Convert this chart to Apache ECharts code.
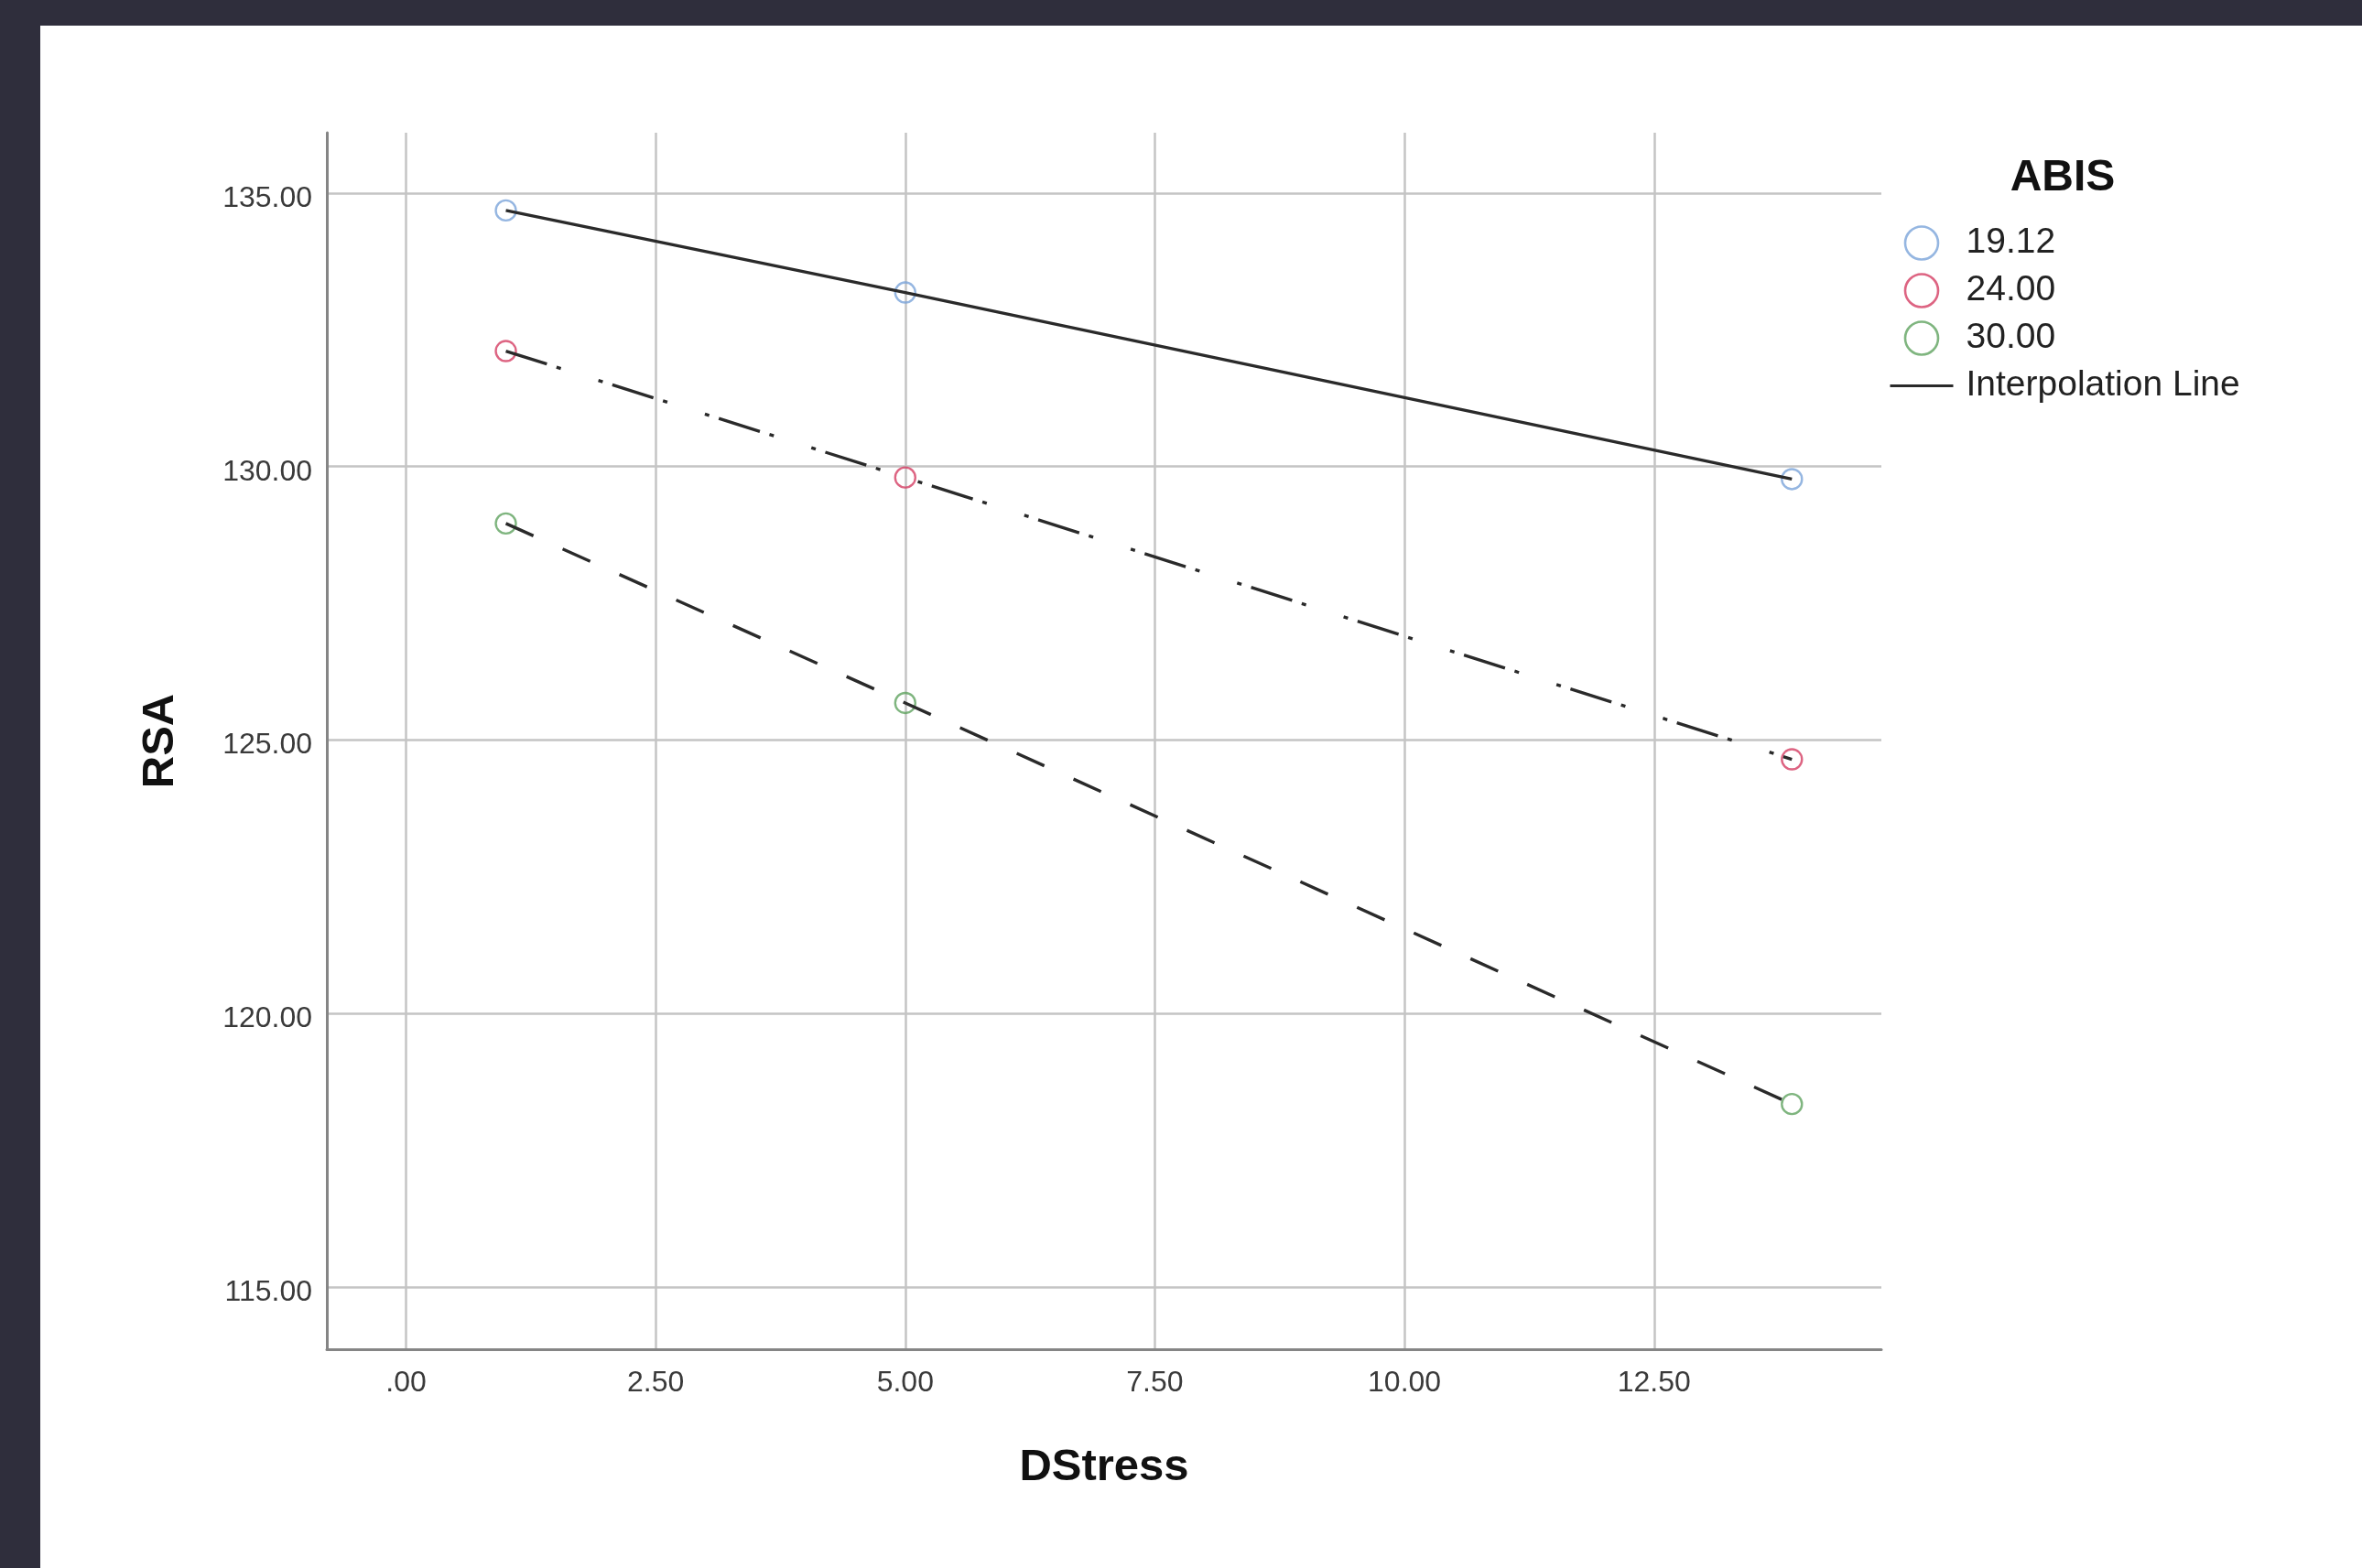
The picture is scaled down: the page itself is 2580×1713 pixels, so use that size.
<!DOCTYPE html>
<html><head><meta charset="utf-8">
<script src="https://cdn.jsdelivr.net/npm/echarts@6/dist/echarts.min.js"></script>
<style>
html,body{margin:0;padding:0;background:#2f2e3c;width:2580px;height:1713px;overflow:hidden}
#chart{position:absolute;left:44px;top:28px;width:2536px;height:1685px;background:#fff}
</style>
</head><body><div id="chart"></div>
<script>
// ---- data ----
const dstress = [1.0, 5.0, 13.88];
const rsa_19_12 = [134.68, 133.18, 129.77];
const rsa_24_00 = [132.11, 129.80, 124.65];
const rsa_30_00 = [128.96, 125.68, 118.35];
const groupNames = ['19.12', '24.00', '30.00'];
const lineName = 'Interpolation Line';
const xTicks = [0, 2.5, 5, 7.5, 10, 12.5];
const xTickLabels = ['.00', '2.50', '5.00', '7.50', '10.00', '12.50'];
const yTicks = [115, 120, 125, 130, 135];
const yTickLabels = ['115.00', '120.00', '125.00', '130.00', '135.00'];
const xAxisName = 'DStress';
const yAxisName = 'RSA';
const legendTitle = 'ABIS';

// ---- styling ----
const groupValues = [rsa_19_12, rsa_24_00, rsa_30_00];
const markerColors = ['#7aa4da', '#d43d63', '#5fa35f'];
const lineDashes = ['solid', [47, 11, 5, 43, 5, 11], [33, 35]];
const lineColor = '#2a2a2a';
const FONT = '"Liberation Sans", Arial, sans-serif';

const fmt = (ticks, labels) => v => {
  const i = ticks.findIndex(t => Math.abs(t - v) < 1e-9);
  return i >= 0 ? labels[i] : '';
};

const series = [];
groupValues.forEach((vals, i) => {
  const pts = dstress.map((x, j) => [x, vals[j]]);
  series.push({
    name: groupNames[i], type: 'scatter', data: pts, z: 2,
    symbol: 'circle', symbolSize: 22,
    itemStyle: { color: 'rgba(255,255,255,0)', borderColor: markerColors[i], borderWidth: 2.4 }
  });
});
groupValues.forEach((vals, i) => {
  const pts = dstress.map((x, j) => [x, vals[j]]);
  series.push({
    name: lineName, type: 'line', data: pts, z: 3,
    symbol: 'none', showSymbol: false,
    itemStyle: { color: lineColor },
    lineStyle: { color: lineColor, width: 3.4, type: lineDashes[i], cap: 'butt' }
  });
});

const legendData = groupNames.map((n, i) => ({
  name: n, icon: 'circle',
  itemStyle: { color: 'rgba(255,255,255,0)', borderColor: markerColors[i], borderWidth: 2.6 }
}));
legendData.push({
  name: lineName,
  itemStyle: { color: 'rgba(0,0,0,0)', borderWidth: 0, opacity: 0 },
  lineStyle: { color: lineColor, width: 3, type: 'solid', opacity: 1 }
});

const chart = echarts.init(document.getElementById('chart'), null, { renderer: 'canvas' });
chart.setOption({
  animation: false,
  backgroundColor: '#ffffff',
  textStyle: { fontFamily: FONT },
  grid: { left: 313, top: 117, right: 525, bottom: 239, containLabel: false },
  xAxis: {
    type: 'value', min: -0.793, max: 14.776,
    name: xAxisName, nameLocation: 'middle', nameGap: 105,
    nameTextStyle: { fontFamily: FONT, fontSize: 49, fontWeight: 'bold', color: '#111' },
    axisLine: { onZero: false, lineStyle: { color: '#858585', width: 3 } },
    axisTick: { show: false, customValues: xTicks },
    axisLabel: { customValues: xTicks, formatter: fmt(xTicks, xTickLabels), fontFamily: FONT, fontSize: 32, color: '#3a3a3a', margin: 21 },
    splitLine: { show: true, lineStyle: { color: '#c4c4c4', width: 2.5 } }
  },
  yAxis: {
    type: 'value', min: 113.87, max: 136.10,
    name: yAxisName, nameLocation: 'middle', nameGap: 157,
    nameTextStyle: { fontFamily: FONT, fontSize: 49, fontWeight: 'bold', color: '#111' },
    axisLine: { show: true, onZero: false, lineStyle: { color: '#858585', width: 3 } },
    axisTick: { show: false, customValues: yTicks },
    axisLabel: { customValues: yTicks, formatter: fmt(yTicks, yTickLabels), fontFamily: FONT, fontSize: 32, color: '#3a3a3a', margin: 16, verticalAlign: 'top', lineHeight: 12 },
    splitLine: { show: true, lineStyle: { color: '#c4c4c4', width: 2.5 } }
  },
  legend: {
    orient: 'vertical', left: 2019, top: 218, padding: 0,
    itemWidth: 69, itemHeight: 36, itemGap: 13,
    data: legendData,
    selectedMode: false,
    textStyle: { fontFamily: FONT, fontSize: 39, color: '#222', lineHeight: 38, padding: [0, 0, 0, 9] }
  },
  graphic: [{
    type: 'text', x: 2209, y: 167, silent: true,
    style: { text: legendTitle, fontFamily: FONT, fontSize: 48, fontWeight: 'bold', fill: '#111',
             align: 'center', verticalAlign: 'middle', textAlign: 'center', textVerticalAlign: 'middle' }
  }],
  series: series
});
</script>
</body></html>
